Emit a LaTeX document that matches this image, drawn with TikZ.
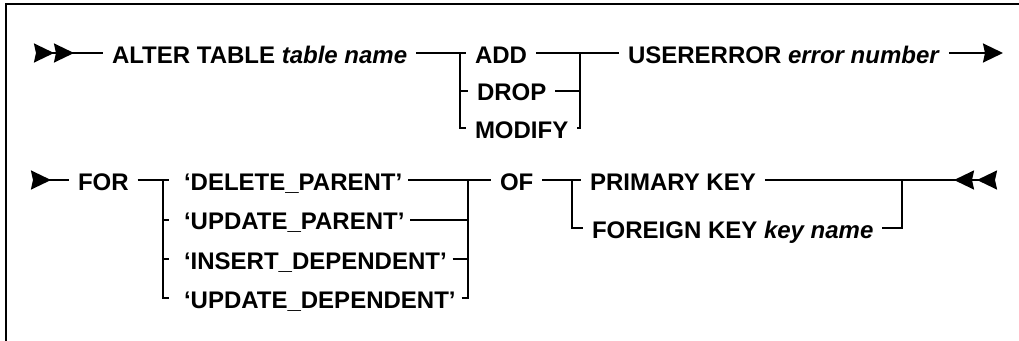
\documentclass[tikz,border=0pt]{standalone}
\usepackage{fontspec}
\setmainfont{Liberation Sans}
\usetikzlibrary{arrows.meta}

\tikzset{
  kw/.style={inner sep=0pt, outer xsep=9pt, outer ysep=0pt, anchor=text,
    text height=20pt, text depth=0pt, font=\fontsize{24}{28}\selectfont\bfseries},
  lit/.style={kw, outer xsep=6pt},
  rail/.style={line width=2pt},
  railhead/.tip={Stealth[length=20pt,width=19pt,inset=2pt]},
  railback/.tip={Stealth[length=20pt,width=19pt,inset=2pt,reversed]},
}

\begin{document}
\begin{tikzpicture}[x=1pt,y=-1pt]
    \useasboundingbox (0,0) rectangle (1019,340);
    % Frame
    \draw[line width=2.5pt] (6,345) -- (6,4) -- (1025,4);

    % First line: ALTER TABLE ... USERERROR
    \coordinate (in1) at (33,53);
    \node[kw] (alter) at (112,63) {ALTER TABLE \textit{table name}};
    \coordinate (ja) at (460,53);
    \node[kw] (add) at (475,63) {ADD};
    \node[kw] (drop) at (477,100.5) {DROP};
    \node[kw] (modify) at (475,138) {MODIFY};
    \coordinate (jb) at (580,53);
    \node[kw] (usererr) at (628,63) {USERERROR \textit{error number}};
    \coordinate (out1) at (1003,53);

    \draw[rail, {railback[sep=1pt] railback}-] (in1) -- (alter.west);
    \draw[rail] (alter.east) -- (add.west);
    \draw[rail] (ja) |- (drop.west);
    \draw[rail] (ja) |- (modify.west);
    \draw[rail] (add.east) -- (usererr.west);
    \draw[rail] (drop.east) -- (drop.east -| jb);
    \draw[rail] (modify.east) -| (jb);
    \draw[rail, -railhead] (usererr.east) -- (out1);

    % Second line: FOR ... OF ...
    \coordinate (in2) at (31,180);
    \node[kw] (for) at (78,190) {FOR};
    \coordinate (jc) at (163,180);
    \node[lit] (delp) at (184,190) {‘DELETE\_PARENT’};
    \node[lit] (updp) at (184,229.5) {‘UPDATE\_PARENT’};
    \node[lit] (insd) at (184,269) {‘INSERT\_DEPENDENT’};
    \node[lit] (updd) at (184,308) {‘UPDATE\_DEPENDENT’};
    \coordinate (jd) at (468,180);
    \node[kw] (of) at (500,190) {OF};
    \coordinate (je) at (572,180);
    \node[kw] (pkey) at (590,190) {PRIMARY KEY};
    \node[kw] (fkey) at (592,238) {FOREIGN KEY \textit{key name}};
    \coordinate (jf) at (902,180);
    \coordinate (out2) at (997,180);

    \draw[rail, railback-] (in2) -- (for.west);
    \draw[rail, shorten >=9pt] (for.east) -- (delp.west);
    \draw[rail, shorten >=9pt] (jc) |- (updp.west);
    \draw[rail, shorten >=9pt] (jc) |- (insd.west);
    \draw[rail, shorten >=9pt] (jc) |- (updd.west);
    \draw[rail] (delp.east) -- (of.west);
    \draw[rail] (updp.east) -- (updp.east -| jd);
    \draw[rail] (insd.east) -- (insd.east -| jd);
    \draw[rail] (updd.east) -| (jd);
    \draw[rail] (of.east) -- (pkey.west);
    \draw[rail] (je) |- (fkey.west);
    \draw[rail, -{railback[sep=3pt] railback}] (pkey.east) -- (out2);
    \draw[rail] (fkey.east) -| (jf);
\end{tikzpicture}
\end{document}
